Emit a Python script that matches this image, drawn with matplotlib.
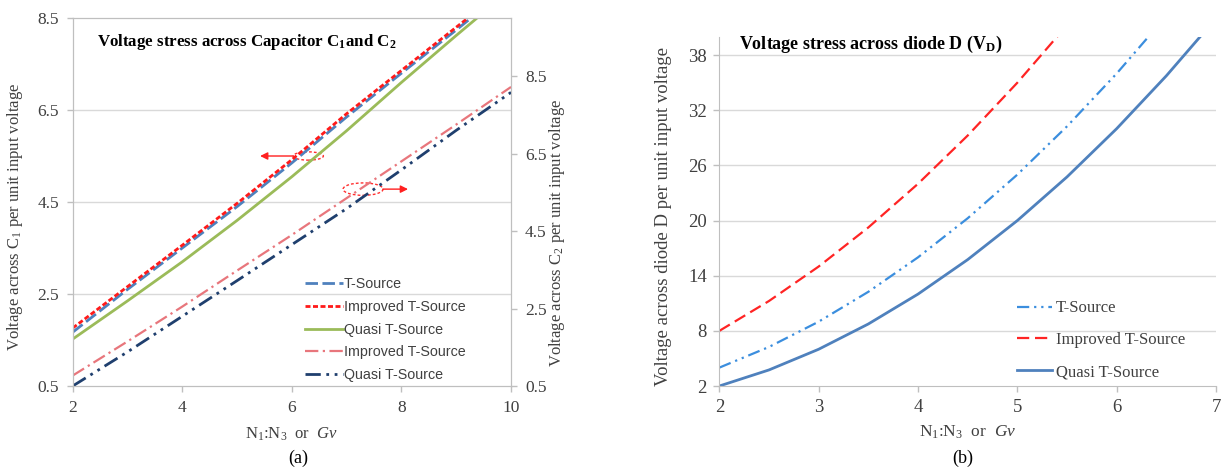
import matplotlib
matplotlib.use("Agg")
import matplotlib.pyplot as plt
from matplotlib.patches import Ellipse

plt.rcParams["font.family"] = "Liberation Serif"
plt.rcParams["mathtext.fontset"] = "custom"
plt.rcParams["mathtext.rm"] = "Liberation Serif"
plt.rcParams["mathtext.it"] = "Liberation Serif:italic"
plt.rcParams["mathtext.default"] = "regular"

# (a) capacitor voltages per unit input voltage vs Gv
gv_c1 = [2, 3, 4, 5, 6, 7, 8, 9, 9.5]
c1_tsource = [1.67, 2.6, 3.5, 4.4, 5.35, 6.35, 7.3, 8.24, 8.72]
c1_improved = [1.76, 2.66, 3.56, 4.47, 5.42, 6.42, 7.36, 8.3, 8.77]
c1_quasi = [1.52, 2.35, 3.2, 4.1, 5.05, 6.05, 7.1, 8.12, 8.62]

gv_c2 = [2, 3, 4, 5, 6, 7, 8, 9, 10]
c2_improved = [0.77, 1.65, 2.55, 3.48, 4.4, 5.35, 6.3, 7.25, 8.22]
c2_quasi = [0.5, 1.38, 2.3, 3.22, 4.15, 5.08, 6.08, 7.1, 8.08]

# (b) diode voltage per unit input voltage vs Gv
gv_d = [2, 2.5, 3, 3.5, 4, 4.5, 5, 5.5, 6, 6.5, 7]
vd_tsource = [4, 6.25, 9, 12.25, 16, 20.25, 25, 30.25, 36, 42.25, 49]
vd_improved = [8, 11.25, 15, 19.25, 24, 29.25, 35, 41.25, 48, 55.25, 63]
vd_quasi = [2, 3.75, 6, 8.75, 12, 15.75, 20, 24.75, 30, 35.75, 42]

left_ticks = [0.5, 2.5, 4.5, 6.5, 8.5]
x_ticks_a = [2, 4, 6, 8, 10]
d_ticks = [2, 8, 14, 20, 26, 32, 38]
x_ticks_b = [2, 3, 4, 5, 6, 7]

GRID = "#d9d9d9"
SPINE = "#bfbfbf"
TICKTXT = "#404040"

fig = plt.figure(figsize=(12.24, 4.70), dpi=100)
ax = fig.add_axes([0.0594, 0.1787, 0.3581, 0.783])
ax_r = ax.twinx()
bx = fig.add_axes([0.5877, 0.1787, 0.4058, 0.7432])

# --- panel (a) ---
ax.set_xlim(2, 10)
ax.set_ylim(0.5, 8.5)
ax_r.set_ylim(0.5, 10.0)
for y in left_ticks[1:-1]:
    ax.axhline(y, color=GRID, lw=1, zorder=0)

h1, = ax.plot(gv_c1, c1_tsource, color="#4f81bd", lw=2, dashes=(4.5, 1.6),
              label="T-Source")
h2, = ax.plot(gv_c1, c1_improved, color="#ff1a1a", lw=2, dashes=(1.8, 0.9),
              label="Improved T-Source")
h3, = ax.plot(gv_c1, c1_quasi, color="#9bbb59", lw=2, label="Quasi T-Source")
h4, = ax_r.plot(gv_c2, c2_improved, color="#e8767c", lw=1.6,
                dashes=(6, 2, 1, 2), label="Improved T-Source")
h5, = ax_r.plot(gv_c2, c2_quasi, color="#1f3f6e", lw=2,
                dashes=(5.5, 2, 1, 2, 1, 2), label="Quasi T-Source")

ax.set_xticks(x_ticks_a)
ax.set_yticks(left_ticks)
ax.set_yticklabels([f"{v:.1f}" for v in left_ticks])
ax_r.set_yticks(left_ticks)
ax_r.set_yticklabels([f"{v:.1f}" for v in left_ticks])
for a in (ax, ax_r):
    for s in a.spines.values():
        s.set_color(SPINE)
    a.tick_params(colors=SPINE, labelcolor=TICKTXT, labelsize=12.5, length=4,
                  width=1, pad=6)

ax.set_ylabel("Voltage across C$_1$ per unit input voltage", fontsize=12,
              color=TICKTXT)
ax.yaxis.set_label_coords(-0.109, 0.46)
ax_r.set_ylabel("Voltage across C$_2$ per unit input voltage", fontsize=12,
                color=TICKTXT, rotation=90)
ax_r.yaxis.set_label_coords(1.082, 0.416)
ax.set_xlabel(r"N$_1$:N$_3$  or  $\mathit{Gv}$", fontsize=12, color=TICKTXT,
              labelpad=7)
ax.text(0.055, 0.935, "Voltage stress across Capacitor C$_1$and C$_2$",
        transform=ax.transAxes, fontsize=12.2, fontweight="bold", va="center")

# arrows marking which axis each group of curves belongs to
ax.add_patch(Ellipse((6.3, 5.5), 0.55, 0.18, fill=False, ec="#ff3030",
                     lw=1, ls=(0, (2, 1.5))))
ax.annotate("", xy=(5.42, 5.5), xytext=(6.03, 5.5),
            arrowprops=dict(arrowstyle="-|>", color="#ff2020", lw=1,
                            mutation_scale=11, shrinkA=0, shrinkB=0))
ax.add_patch(Ellipse((7.3, 4.78), 0.73, 0.27, fill=False, ec="#ff3030",
                     lw=1, ls=(0, (2, 1.5))))
ax.annotate("", xy=(8.12, 4.78), xytext=(7.66, 4.78),
            arrowprops=dict(arrowstyle="-|>", color="#ff2020", lw=1,
                            mutation_scale=11, shrinkA=0, shrinkB=0))

leg_a = ax.legend(handles=[h1, h2, h3, h4, h5], loc="upper left",
                  bbox_to_anchor=(0.531, 0.295), frameon=False, borderpad=0,
                  borderaxespad=0, handlelength=2.6, handletextpad=0.1,
                  labelspacing=0.6,
                  prop={"family": "Liberation Sans", "size": 10.3})
for t in leg_a.get_texts():
    t.set_color(TICKTXT)

fig.text(0.2435, 0.025, "(a)", fontsize=13, ha="center", va="center")

# --- panel (b) ---
bx.set_xlim(2, 7)
bx.set_ylim(2, 40)
for y in d_ticks[1:]:
    bx.axhline(y, color=GRID, lw=1, zorder=0)

g1, = bx.plot(gv_d, vd_tsource, color="#3b8ede", lw=1.6,
              dashes=(5.5, 2.2, 1, 2.2, 1, 2.2), label="T-Source")
g2, = bx.plot(gv_d, vd_improved, color="#ff2424", lw=1.6, dashes=(5.5, 2.6),
              label="Improved T-Source")
g3, = bx.plot(gv_d, vd_quasi, color="#4f81bd", lw=2, label="Quasi T-Source")

bx.set_xticks(x_ticks_b)
bx.set_yticks(d_ticks)
bx.spines["top"].set_visible(False)
bx.spines["right"].set_visible(False)
for s in ("left", "bottom"):
    bx.spines[s].set_color(SPINE)
bx.tick_params(colors=SPINE, labelcolor=TICKTXT, labelsize=13.5, length=4,
               width=1, pad=5)
bx.set_ylabel("Voltage across diode D per unit input voltage", fontsize=13.5,
              color=TICKTXT)
bx.yaxis.set_label_coords(-0.095, 0.484)
bx.set_xlabel(r"N$_1$:N$_3$  or  $\mathit{Gv}$", fontsize=12.5, color=TICKTXT,
              labelpad=6)
bx.text(0.04, 0.979, "Voltage stress across diode D (V$_D$)",
        transform=bx.transAxes, fontsize=13, fontweight="bold", va="center")

leg_b = bx.legend(handles=[g1, g2, g3], loc="upper left",
                  bbox_to_anchor=(0.6, 0.245), frameon=False, borderpad=0,
                  borderaxespad=0, handlelength=2.1, handletextpad=0.2,
                  labelspacing=0.95, prop={"family": "Liberation Serif",
                                           "size": 12})
for t in leg_b.get_texts():
    t.set_color(TICKTXT)

fig.text(0.7868, 0.025, "(b)", fontsize=13, ha="center", va="center")

fig.savefig("out.png", dpi=100)
